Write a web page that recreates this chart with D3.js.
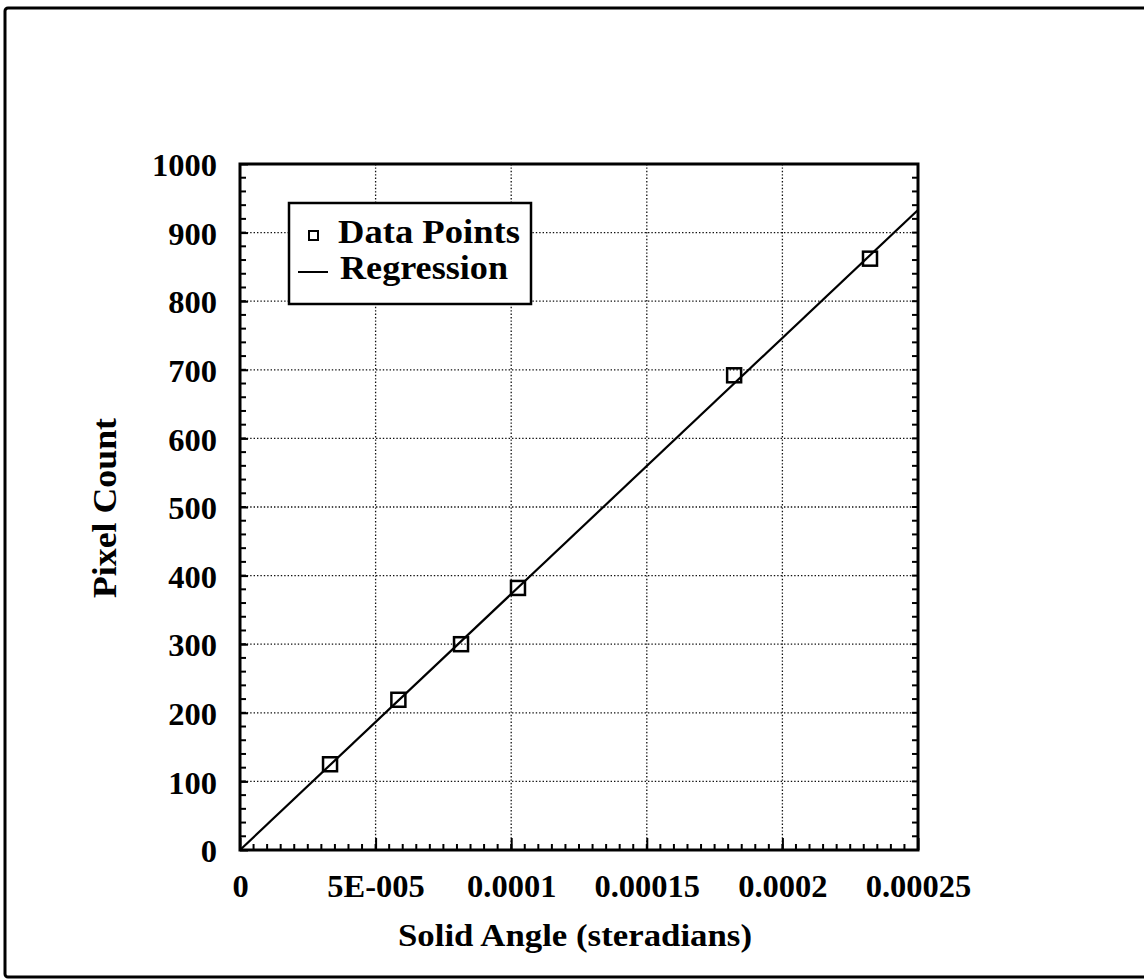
<!DOCTYPE html>
<html>
<head>
<meta charset="utf-8">
<script src="https://cdnjs.cloudflare.com/ajax/libs/d3/7.8.5/d3.min.js"></script>
<style>
  html, body { margin: 0; padding: 0; background: #fff; overflow: hidden; }
  svg { display: block; }
  text { font-family: "Liberation Serif", "Times New Roman", serif; font-weight: bold; fill: #000; }
</style>
</head>
<body>
<svg id="chart" width="1144" height="979"></svg>
<script>
// ---- data ----
const solidAngle = [3.32e-5, 5.84e-5, 8.15e-5, 1.025e-4, 1.822e-4, 2.323e-4];
const pixelCount = [125, 219, 300, 382, 692, 862];
const regressionX = [0, 0.00025];
const regressionY = [0, 933];
const xTickValues = [0, 5e-5, 1e-4, 1.5e-4, 2e-4, 2.5e-4];
const xTickLabels = ["0", "5E-005", "0.0001", "0.00015", "0.0002", "0.00025"];
const yTickValues = [0, 100, 200, 300, 400, 500, 600, 700, 800, 900, 1000];
const yTickLabels = ["0", "100", "200", "300", "400", "500", "600", "700", "800", "900", "1000"];
const xTitle = "Solid Angle (steradians)";
const yTitle = "Pixel Count";
const legendLabels = ["Data Points", "Regression"];

// ---- layout ----
const L = 240, R = 918, T = 164, B = 850;
const svg = d3.select("#chart");

// outer frame
svg.append("rect").attr("x", 5).attr("y", 8).attr("width", 1200).attr("height", 969)
  .attr("rx", 3).attr("fill", "none").attr("stroke", "#000").attr("stroke-width", 3);

const x = d3.scaleLinear().domain([0, 0.00025]).range([L, R]);
const y = d3.scaleLinear().domain([0, 1000]).range([B, T]);

// grid
const grid = svg.append("g").attr("stroke", "#111").attr("stroke-width", 1.3).attr("stroke-dasharray", "1.4,2");
grid.selectAll("line.v").data(xTickValues.slice(1, -1)).join("line")
  .attr("x1", d => x(d)).attr("x2", d => x(d)).attr("y1", T).attr("y2", B);
grid.selectAll("line.h").data(yTickValues.slice(1, -1)).join("line")
  .attr("y1", d => y(d)).attr("y2", d => y(d)).attr("x1", L).attr("x2", R);

// minor ticks
const xMinor = d3.range(0, 0.00025 + 1e-12, 5e-6);
const yMinor = d3.range(0, 1000 + 1e-9, 20);
const ticks = svg.append("g").attr("stroke", "#000").attr("stroke-width", 2);
ticks.selectAll("line.xm").data(xMinor).join("line")
  .attr("x1", d => x(d)).attr("x2", d => x(d)).attr("y1", B).attr("y2", B - 6);
ticks.selectAll("line.ylm").data(yMinor).join("line")
  .attr("y1", d => y(d)).attr("y2", d => y(d)).attr("x1", L).attr("x2", L + 6);
ticks.selectAll("line.yrm").data(yMinor).join("line")
  .attr("y1", d => y(d)).attr("y2", d => y(d)).attr("x1", R).attr("x2", R - 6);

// axes (labels + major ticks)
const xAxis = d3.axisBottom(x).tickValues(xTickValues)
  .tickFormat((d, i) => xTickLabels[i]).tickSize(-12).tickPadding(24);
const gx = svg.append("g").attr("transform", `translate(0,${B})`).call(xAxis);
gx.select(".domain").remove();
gx.selectAll(".tick line").attr("stroke", "#000").attr("stroke-width", 2);
gx.selectAll("text").attr("font-size", 32.5).attr("font-family", null);

const yAxis = d3.axisLeft(y).tickValues(yTickValues)
  .tickFormat((d, i) => yTickLabels[i]).tickSize(-8).tickPadding(23);
const gy = svg.append("g").attr("transform", `translate(${L},0)`).call(yAxis);
gy.select(".domain").remove();
gy.selectAll(".tick line").attr("stroke", "#000").attr("stroke-width", 2);
gy.selectAll("text").attr("font-size", 32.5).attr("font-family", null).attr("dy", "0.36em");

// plot frame
svg.append("rect").attr("x", L).attr("y", T).attr("width", R - L).attr("height", B - T)
  .attr("fill", "none").attr("stroke", "#000").attr("stroke-width", 3);

// regression line
const line = d3.line().x(d => x(d[0])).y(d => y(d[1]));
svg.append("path").datum(regressionX.map((d, i) => [d, regressionY[i]]))
  .attr("d", line).attr("fill", "none").attr("stroke", "#000").attr("stroke-width", 2.2);

// data points
const S = 14;
svg.append("g").selectAll("rect").data(solidAngle.map((d, i) => [d, pixelCount[i]])).join("rect")
  .attr("x", d => x(d[0]) - S / 2).attr("y", d => y(d[1]) - S / 2)
  .attr("width", S).attr("height", S)
  .attr("fill", "none").attr("stroke", "#000").attr("stroke-width", 2.5);

// legend
const lg = svg.append("g");
lg.append("rect").attr("x", 289).attr("y", 203).attr("width", 242).attr("height", 101)
  .attr("fill", "#fff").attr("stroke", "#000").attr("stroke-width", 2.5);
lg.append("rect").attr("x", 309).attr("y", 231).attr("width", 9).attr("height", 9)
  .attr("fill", "none").attr("stroke", "#000").attr("stroke-width", 2);
lg.append("line").attr("x1", 298).attr("x2", 328).attr("y1", 272).attr("y2", 272)
  .attr("stroke", "#000").attr("stroke-width", 2);
lg.append("text").attr("x", 338).attr("y", 243).attr("font-size", 34)
  .attr("textLength", 182).attr("lengthAdjust", "spacingAndGlyphs").text(legendLabels[0]);
lg.append("text").attr("x", 340).attr("y", 279).attr("font-size", 34)
  .attr("textLength", 168).attr("lengthAdjust", "spacingAndGlyphs").text(legendLabels[1]);

// axis titles
svg.append("text").attr("x", 398).attr("y", 946).attr("font-size", 32)
  .attr("textLength", 354).attr("lengthAdjust", "spacingAndGlyphs").text(xTitle);
svg.append("text").attr("transform", "translate(116,598) rotate(-90)")
  .attr("font-size", 33).attr("textLength", 180).attr("lengthAdjust", "spacingAndGlyphs").text(yTitle);
</script>
</body>
</html>
